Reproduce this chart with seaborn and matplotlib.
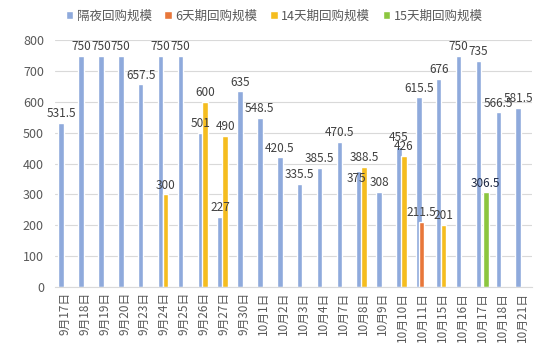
import pandas as pd
import numpy as np
import matplotlib.pyplot as plt
import seaborn as sns

dates = ["9月17日", "9月18日", "9月19日", "9月20日", "9月23日", "9月24日", "9月25日",
         "9月26日", "9月27日", "9月30日", "10月1日", "10月2日", "10月3日", "10月4日",
         "10月7日", "10月8日", "10月9日", "10月10日", "10月11日", "10月15日", "10月16日",
         "10月17日", "10月18日", "10月21日"]
overnight = [531.5, 750, 750, 750, 657.5, 750, 750, 501, 227, 635, 548.5, 420.5, 335.5,
             385.5, 470.5, 375, 308, 455, 615.5, 676, 750, 735, 566.5, 581.5]
day6 = {"10月11日": 211.5}
day14 = {"9月24日": 300, "9月26日": 600, "9月27日": 490, "10月8日": 388.5,
         "10月10日": 426, "10月15日": 201}
day15 = {"10月17日": 306.5}
series = ["隔夜回购规模", "6天期回购规模", "14天期回购规模", "15天期回购规模"]
colors = ["#8FAADC", "#E8773A", "#F5BD1F", "#8CC63F"]

rows = []
for i, d in enumerate(dates):
    rows.append((d, series[0], overnight[i]))
    rows.append((d, series[1], day6.get(d, np.nan)))
    rows.append((d, series[2], day14.get(d, np.nan)))
    rows.append((d, series[3], day15.get(d, np.nan)))
df = pd.DataFrame(rows, columns=["date", "kind", "value"])

sns.set_style("white")
plt.rcParams['font.family'] = ['Noto Sans CJK SC', 'DejaVu Sans']

fig = plt.figure(figsize=(5.5, 3.52), dpi=100)
ax = fig.add_axes([0.1, 0.185, 0.867, 0.70])
sns.barplot(data=df, x="date", y="value", hue="kind", order=dates, hue_order=series,
            palette=colors, width=0.5, dodge=True, saturation=1, ax=ax, legend=True)

# widen the bars so they overlap like the Excel original
for container in ax.containers:
    for p in container:
        c = p.get_x() + p.get_width() / 2
        p.set_width(0.28)
        p.set_x(c - 0.14)

for k, container in enumerate(ax.containers):
    labels = ["" if np.isnan(v) else f"{v:g}" for v in container.datavalues]
    col = "#1F2A44" if k == 3 else "#404040"
    texts = ax.bar_label(container, labels=labels, fontsize=8.5, color=col, padding=2)
    for t in texts:
        if t.get_text() == "375":
            t.set_position((-2, -10))

ax.set_ylim(0, 800)
ax.set_xlim(-0.5, len(dates) - 0.5)
ax.set_yticks(range(0, 801, 100))
ax.yaxis.grid(True, color="#D9D9D9", linewidth=0.8)
ax.set_axisbelow(True)
for s in ["top", "right", "left"]:
    ax.spines[s].set_visible(False)
ax.spines["bottom"].set_color("#D9D9D9")
ax.set_xlabel("")
ax.set_ylabel("")
ax.tick_params(axis="y", length=0, labelsize=9, labelcolor="#595959", pad=8)
ax.tick_params(axis="x", length=0, labelsize=8.5, labelcolor="#595959", rotation=90)
ax.set_xticks(np.arange(len(dates)) - 0.5, minor=True)
ax.tick_params(axis="x", which="minor", length=4, color="#D9D9D9")

ax.legend(loc="upper center", bbox_to_anchor=(0.46, 1.17), ncol=4, frameon=False,
          fontsize=9, handlelength=0.6, handleheight=0.6, handletextpad=0.3,
          columnspacing=1.0, labelcolor="#595959")

plt.savefig("out.png", dpi=100)
